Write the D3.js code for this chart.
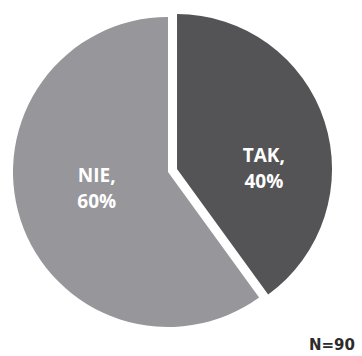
<!DOCTYPE html>
<html>
<head>
<meta charset="utf-8">
<script src="https://cdn.jsdelivr.net/npm/d3@7"></script>
<style>
  html, body { margin: 0; padding: 0; background: #fff; }
  svg { display: block; }
</style>
</head>
<body>
<svg id="chart" width="362" height="356"></svg>
<script>
// Survey answers (share of respondents, %)
const categories = ["TAK", "NIE"];
const values = [40, 60];
const sampleLabel = "N=90";

const colors = { TAK: "#545456", NIE: "#97979b" };

const width = 362, height = 356;
const cx = 168, cy = 172, radius = 155;
const explode = 9.5;                      // TAK slice pulled out along its bisector
const labelOffset = { TAK: [0.56, -0.02], NIE: [-0.46, 0.09] }; // fraction of radius from slice centre

const svg = d3.select("#chart");

const pie = d3.pie().sort(null).value(d => d.value);
const arc = d3.arc().innerRadius(0).outerRadius(radius);

const data = categories.map((c, i) => ({ name: c, value: values[i] }));
const arcs = pie(data);

const g = svg.append("g").attr("transform", `translate(${cx},${cy})`);

const slice = g.selectAll("g.slice")
  .data(arcs)
  .join("g")
  .attr("class", "slice")
  .attr("transform", d => {
    if (d.data.name !== "TAK") return null;
    const mid = (d.startAngle + d.endAngle) / 2;
    return `translate(${Math.sin(mid) * explode},${-Math.cos(mid) * explode})`;
  });

slice.append("path")
  .attr("d", arc)
  .attr("fill", d => colors[d.data.name]);

const label = slice.append("text")
  .attr("text-anchor", "middle")
  .attr("fill", "#ffffff")
  .attr("font-family", "'Open Sans', sans-serif")
  .attr("font-weight", "bold")
  .attr("font-size", 19)
  .attr("transform", d => {
    const o = labelOffset[d.data.name];
    return `translate(${o[0] * radius},${o[1] * radius})`;
  });

label.append("tspan")
  .attr("x", 0).attr("y", -4)
  .text(d => d.data.name + ",");
label.append("tspan")
  .attr("x", 0).attr("y", 22)
  .text(d => d3.format("d")(d.data.value) + "%");

svg.append("text")
  .attr("x", 355).attr("y", 350)
  .attr("text-anchor", "end")
  .attr("fill", "#2b2b2b")
  .attr("font-family", "'DejaVu Sans', sans-serif")
  .attr("font-weight", "bold")
  .attr("font-size", 15)
  .text(sampleLabel);
</script>
</body>
</html>
